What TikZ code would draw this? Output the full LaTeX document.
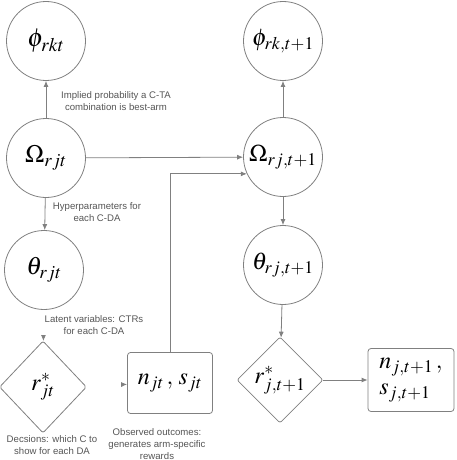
\documentclass[tikz,border=0pt]{standalone}
\usepackage{mathptmx}
\usepackage{fontspec}
\setsansfont{Liberation Sans}
\usetikzlibrary{shapes.geometric,arrows.meta}
\definecolor{linegray}{HTML}{808080}
\definecolor{labelgray}{HTML}{555555}
\tikzset{
  var/.style={circle,draw=linegray,line width=0.8pt,minimum size=79pt,inner sep=0pt,font=\fontsize{24}{28}\selectfont},
  dec/.style={diamond,draw=linegray,line width=0.8pt,inner sep=0pt,rounded corners=2pt,font=\fontsize{24}{28}\selectfont},
  obs/.style={rectangle,draw=linegray,line width=0.8pt,rounded corners=3pt,inner sep=0pt,font=\fontsize{24}{28}\selectfont},
  lbl/.style={font=\sffamily\fontsize{9.6}{12}\selectfont,text=labelgray,align=center,inner sep=1pt},
  conn/.style={draw=linegray,line width=0.8pt,-{Latex[length=6pt,width=5pt]}},
  ghost/.style={draw=white,line width=0.8pt,-{Latex[length=6pt,width=5pt,color=linegray]}}
}
\begin{document}
\begin{tikzpicture}[x=1pt,y=-1pt]
\useasboundingbox (0,0) rectangle (456,460);
\node[var,font=\fontsize{26}{30}\selectfont] (P1) at (46,41) {$\phi_{rkt}$};
\node[var,font=\fontsize{25}{30}\selectfont] (O1) at (46,158) {$\Omega_{rjt}$};
\node[var,font=\fontsize{25}{30}\selectfont] (T1) at (44,270) {$\theta_{rjt}$};
\node[dec,minimum width=87pt,minimum height=92pt] (R1) at (43,387) {$r^*_{jt}$};
\node[obs,minimum width=85pt,minimum height=61pt] (B1) at (170,383) {$n_{jt}\,,\,s_{jt}$};
\node[var] (P2) at (283,41) {$\phi_{rk,t+1}$};
\node[var] (O2) at (283,157) {$\Omega_{rj,t+1}$};
\node[var] (T2) at (283,265) {$\theta_{rj,t+1}$};
\node[dec,minimum width=86pt,minimum height=86pt] (R2) at (280,380) {$r^*_{j,t+1}$};
\node[obs,minimum width=86pt,minimum height=63pt,align=left] (B2) at (411,380) {$n_{j,t+1}\,,$\\[-2pt]$s_{j,t+1}$};
\draw[conn] (O1) -- (P1);
\draw[conn] (O1) -- (T1);
\draw[ghost] (T1) -- (R1);
\draw[ghost] (R1) -- (B1);
\draw[conn] (O1) -- (O2);
\draw[conn] (B1.north) |- (O2.205);
\draw[conn] (O2) -- (P2);
\draw[conn] (O2) -- (T2);
\draw[conn] (T2) -- (R2);
\draw[conn] (R2) -- (B2);
\node[lbl] (L1) at (116,101) {Implied probability a C-TA\\combination is best-arm};
\node[lbl] (L2) at (97,212) {Hyperparameters for\\each C-DA};
\node[lbl] (L3) at (94,325) {Latent variables: CTRs\\for each C-DA};
\node[lbl] (L4) at (52,445) {Decsions: which C to\\show for each DA};
\node[lbl] (L5) at (157,444) {Observed outcomes:\\generates arm-specific\\rewards};
\end{tikzpicture}
\end{document}
